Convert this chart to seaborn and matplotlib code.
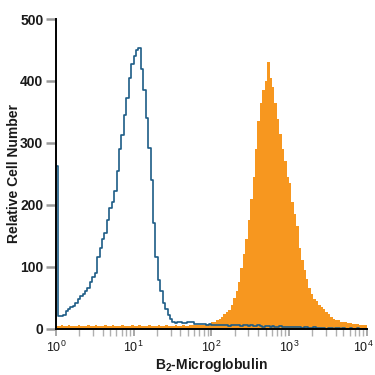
import numpy as np
import pandas as pd
import matplotlib
matplotlib.use("Agg")
import matplotlib.pyplot as plt
import matplotlib.transforms as mtransforms
import seaborn as sns
from matplotlib.ticker import LogLocator, FixedLocator

# 128 log-spaced channels from 10^0 to 10^4 (32 per decade)
n_channels = 128
decades = (0, 4)

isotype_counts = [
    262, 20, 20, 22, 28, 32, 34, 36, 42, 48, 52, 56, 60, 66, 75, 84,
    90, 115, 130, 145, 155, 175, 195, 205, 222, 255, 290, 312, 345, 372, 405, 428,
    440, 450, 454, 420, 385, 340, 292, 240, 170, 115, 78, 60, 42, 32, 22, 15,
    10, 9, 10, 11, 9, 9, 10, 11, 10, 8, 7, 7, 7, 7, 6, 7,
    6, 6, 6, 5, 6, 5, 5, 4, 5, 5, 6, 5, 4, 5, 5, 4,
    5, 4, 4, 5, 4, 3, 4, 4, 3, 4, 3, 3, 4, 3, 3, 3,
    2, 3, 2, 2, 2, 1, 2, 2, 1, 1, 2, 1, 1, 1, 1, 0,
    1, 1, 0, 1, 1, 0, 1, 0, 0, 1, 0, 0, 1, 0, 0, 0,
]

antibody_counts = [
    4, 4, 5, 4, 4, 5, 4, 4, 4, 5, 4, 4, 4, 5, 4, 4,
    5, 4, 4, 4, 5, 4, 4, 5, 4, 4, 4, 5, 4, 4, 4, 5,
    4, 4, 5, 4, 4, 4, 5, 4, 4, 4, 5, 4, 4, 5, 4, 4,
    4, 5, 4, 4, 5, 4, 4, 5, 5, 5, 5, 6, 6, 6, 7, 8,
    10, 11, 13, 16, 18, 23, 27, 30, 38, 50, 60, 75, 98, 120, 145, 175,
    210, 245, 290, 335, 365, 385, 400, 430, 405, 390, 365, 338, 315, 290, 270, 245,
    235, 205, 185, 165, 130, 110, 95, 80, 66, 56, 48, 44, 38, 35, 31, 27,
    23, 19, 16, 14, 13, 11, 11, 10, 9, 9, 8, 7, 7, 6, 6, 5,
]

y_ticks = [0, 100, 200, 300, 400, 500]
x_label = "B$_2$-Microglobulin"
y_label = "Relative Cell Number"

channel_values = 10 ** ((np.arange(n_channels) + 0.5) * (decades[1] - decades[0]) / n_channels)
df = pd.DataFrame({
    "fluor": np.concatenate([channel_values, channel_values]),
    "count": np.concatenate([antibody_counts, isotype_counts]),
    "group": ["antibody"] * n_channels + ["isotype"] * n_channels,
})

sns.set_theme(style="white")
plt.rcParams["font.family"] = ["Liberation Sans", "DejaVu Sans"]
plt.rcParams["mathtext.fontset"] = "custom"
plt.rcParams["mathtext.rm"] = "Liberation Sans"
plt.rcParams["mathtext.bf"] = "Liberation Sans:bold"
plt.rcParams["mathtext.default"] = "regular"

fig = plt.figure(figsize=(3.75, 3.75), dpi=100)
ax = fig.add_axes([0.149, 0.124, 0.829, 0.825])

orange = "#f7971f"
blue = "#1d5c86"

sns.histplot(data=df[df.group == "antibody"], x="fluor", weights="count",
             bins=n_channels, binrange=decades, log_scale=True,
             element="bars", fill=True, color=orange, alpha=1, linewidth=0,
             edgecolor=orange, ax=ax)
sns.histplot(data=df[df.group == "isotype"], x="fluor", weights="count",
             bins=n_channels, binrange=decades, log_scale=True,
             element="step", fill=False, color=blue, linewidth=1.2, ax=ax)

ax.set_xlim(1, 1e4)
ax.set_ylim(0, 500)
ax.set_yticks(y_ticks)
ax.xaxis.set_major_locator(FixedLocator([1, 10, 100, 1000, 10000]))
ax.xaxis.set_minor_locator(LogLocator(base=10, subs=np.arange(2, 10)))

for s in ["top", "right"]:
    ax.spines[s].set_visible(False)
for s in ["left", "bottom"]:
    ax.spines[s].set_color("black")
    ax.spines[s].set_linewidth(1.4)

ax.tick_params(axis="y", which="major", length=7, width=1.8, color="#9a9a9a",
               labelsize=10, pad=2, left=True, labelcolor="#1a1a1a")
ax.tick_params(axis="x", which="major", length=5, width=1.2, color="#9a9a9a",
               labelsize=9, pad=3, bottom=True, labelcolor="#1a1a1a")
ax.tick_params(axis="x", which="minor", length=5, width=1.0, color="#b0b0b0", bottom=True)
for lbl in ax.get_yticklabels():
    lbl.set_fontweight("bold")

# nudge the last x tick label so it stays inside the figure
last = ax.xaxis.get_major_ticks()[-1].label1
last.set_transform(last.get_transform() +
                   mtransforms.ScaledTranslation(-2.5 / 72, 0, fig.dpi_scale_trans))

ax.set_xlabel(x_label, fontsize=10, fontweight="bold", color="#1a1a1a")
ax.set_ylabel(y_label, fontsize=10, fontweight="bold", color="#1a1a1a")
ax.xaxis.label.set_verticalalignment("center")
ax.yaxis.label.set_verticalalignment("center")
ax.xaxis.set_label_coords(0.5, -0.118)
ax.yaxis.set_label_coords(-0.135, 0.5)

fig.savefig("out.png", dpi=100, facecolor="white")
